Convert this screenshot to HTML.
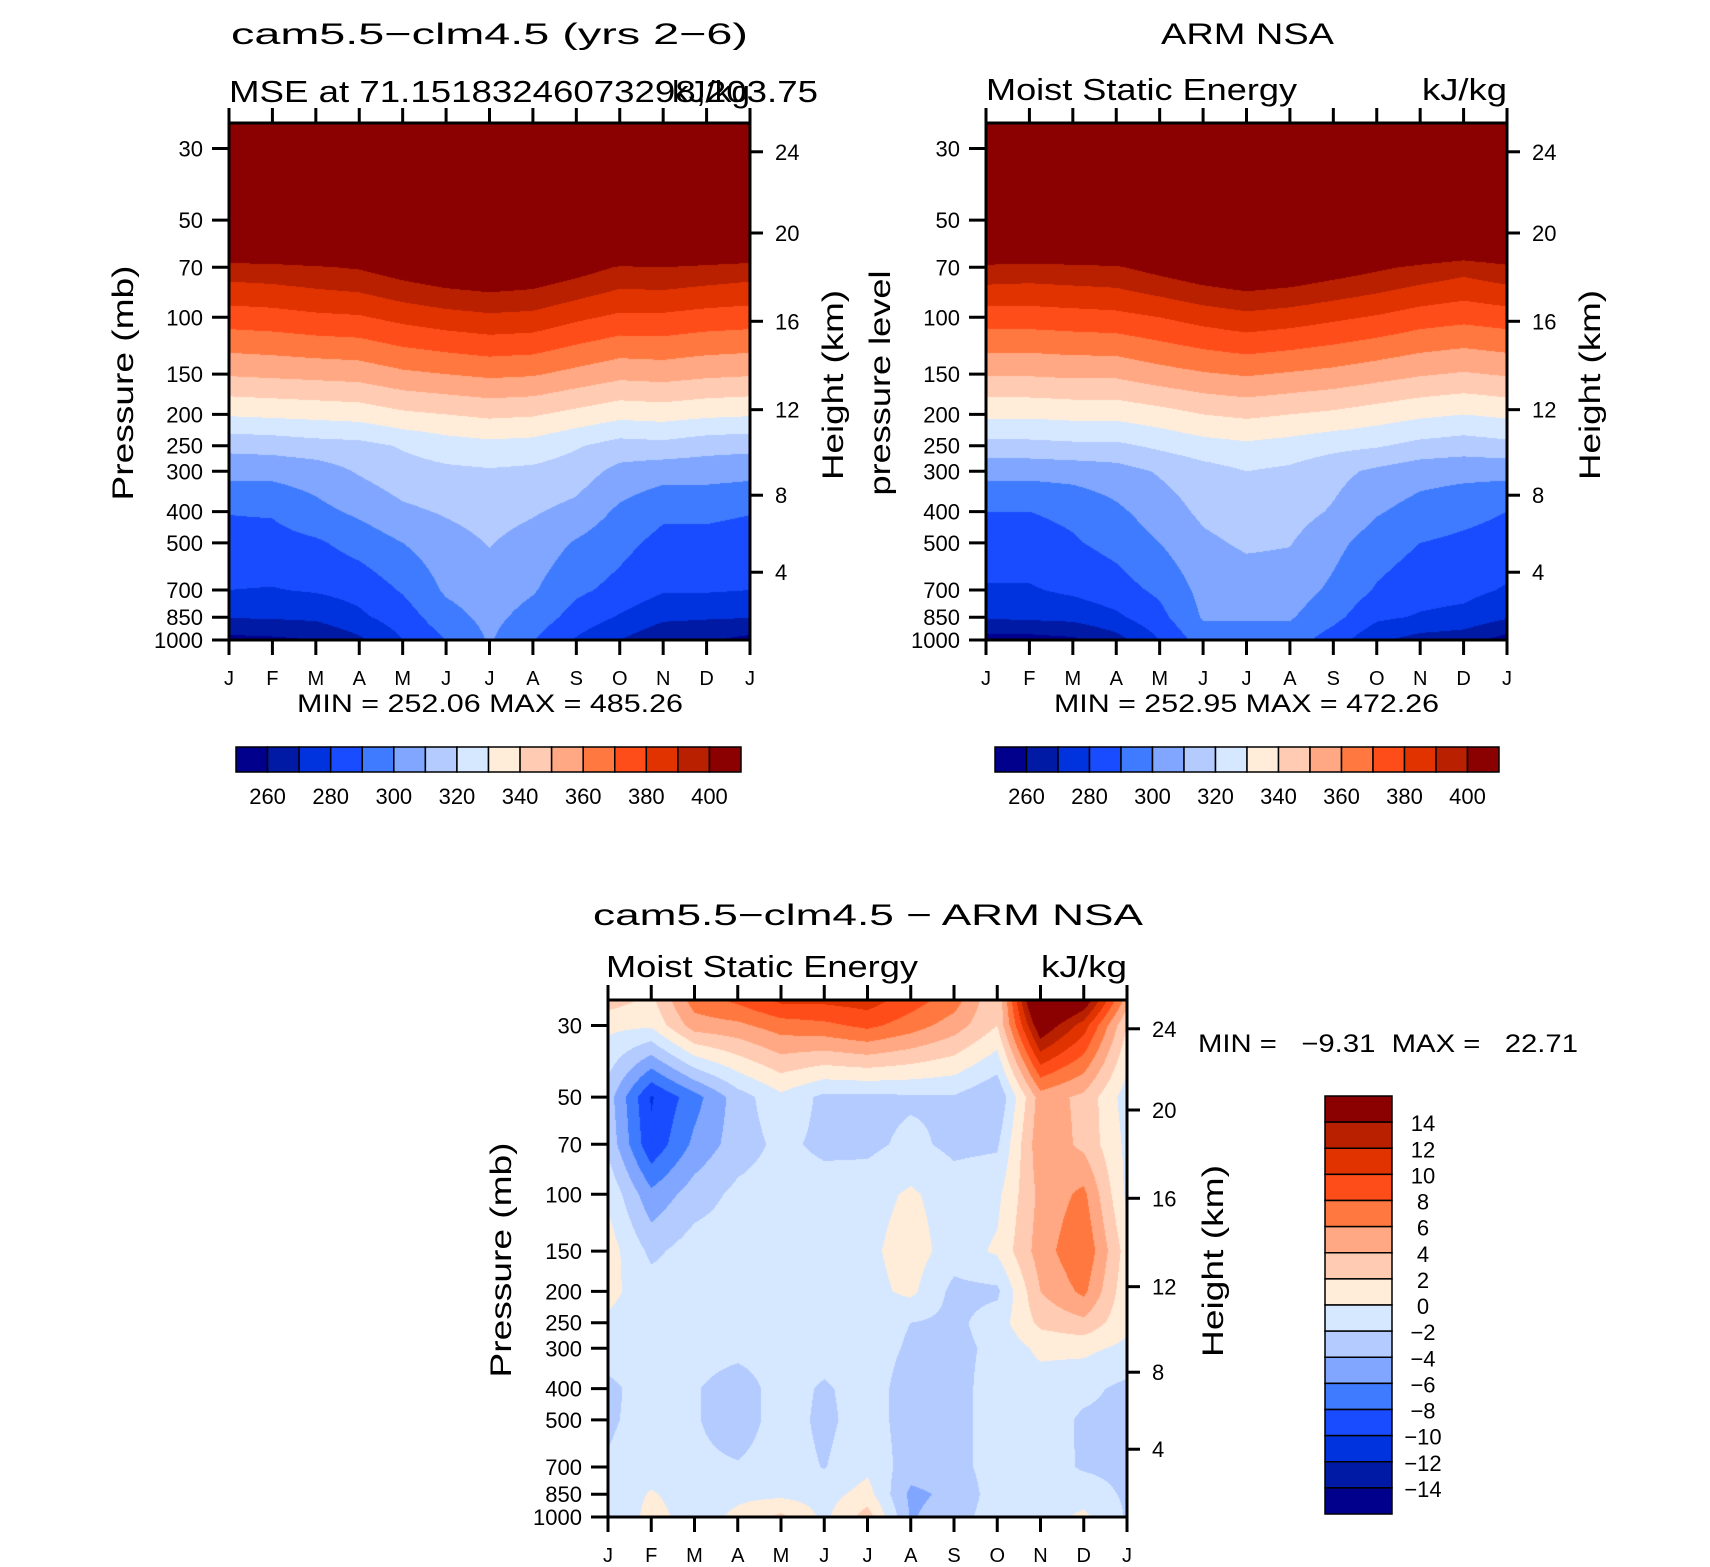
<!DOCTYPE html>
<html>
<head>
<meta charset="utf-8">
<style>
html,body{margin:0;padding:0;background:#fff;}
#wrap{position:relative;width:1710px;height:1567px;overflow:hidden;background:#fff;}
canvas,svg{position:absolute;left:0;top:0;}
text{font-family:"Liberation Sans",sans-serif;fill:#000;}
</style>
</head>
<body>
<div id="wrap">
<canvas id="cv" width="1710" height="1567"></canvas>
<svg id="sv" width="1710" height="1567" xmlns="http://www.w3.org/2000/svg">
  <text x="231" y="44" font-size="30" textLength="517" lengthAdjust="spacingAndGlyphs">cam5.5−clm4.5 (yrs 2−6)</text>
  <text x="229" y="102" font-size="31" textLength="589" lengthAdjust="spacingAndGlyphs">MSE at 71.15183246073298,203.75</text>
  <text x="672" y="102" font-size="31" textLength="78" lengthAdjust="spacingAndGlyphs">kJ/kg</text>
  <text x="1161" y="44" font-size="30" textLength="173" lengthAdjust="spacingAndGlyphs">ARM NSA</text>
  <text x="986" y="100" font-size="31" textLength="311" lengthAdjust="spacingAndGlyphs">Moist Static Energy</text>
  <text x="1422" y="100" font-size="31" textLength="85" lengthAdjust="spacingAndGlyphs">kJ/kg</text>
  <text x="297" y="712" font-size="25" textLength="386" lengthAdjust="spacingAndGlyphs">MIN = 252.06 MAX = 485.26</text>
  <text x="1054" y="712" font-size="25" textLength="385" lengthAdjust="spacingAndGlyphs">MIN = 252.95 MAX = 472.26</text>
  <text x="593" y="925" font-size="30" textLength="550" lengthAdjust="spacingAndGlyphs">cam5.5−clm4.5 − ARM NSA</text>
  <text x="606" y="977" font-size="31" textLength="312" lengthAdjust="spacingAndGlyphs">Moist Static Energy</text>
  <text x="1041" y="977" font-size="31" textLength="86" lengthAdjust="spacingAndGlyphs">kJ/kg</text>
  <text x="1198" y="1052" font-size="25" textLength="380" lengthAdjust="spacingAndGlyphs" xml:space="preserve">MIN =   −9.31  MAX =   22.71</text>
  <text transform="translate(133,383) rotate(-90)" text-anchor="middle" font-size="30" textLength="235" lengthAdjust="spacingAndGlyphs">Pressure (mb)</text>
  <text transform="translate(843,385) rotate(-90)" text-anchor="middle" font-size="30" textLength="190" lengthAdjust="spacingAndGlyphs">Height (km)</text>
  <text transform="translate(890,383) rotate(-90)" text-anchor="middle" font-size="30" textLength="225" lengthAdjust="spacingAndGlyphs">pressure level</text>
  <text transform="translate(1600,385) rotate(-90)" text-anchor="middle" font-size="30" textLength="190" lengthAdjust="spacingAndGlyphs">Height (km)</text>
  <text transform="translate(511,1260) rotate(-90)" text-anchor="middle" font-size="30" textLength="235" lengthAdjust="spacingAndGlyphs">Pressure (mb)</text>
  <text transform="translate(1223,1261) rotate(-90)" text-anchor="middle" font-size="30" textLength="192" lengthAdjust="spacingAndGlyphs">Height (km)</text>
  <g id="axes"></g>
</svg>
</div>
<script>
const months = ['J','F','M','A','M','J','J','A','S','O','N','D','J'];
const levels = [25,30,50,70,100,150,200,250,300,400,500,700,850,1000];
const pressureTicks = [30,50,70,100,150,200,250,300,400,500,700,850,1000];
const heightTickLabels = ['24','20','16','12','8','4'];
const heightTickPressures = [30.7,54.8,102.9,193.3,355.9,616.6];
const mseTickLabels = [260,280,300,320,340,360,380,400];
const diffTickLabels = [14,12,10,8,6,4,2,0,-2,-4,-6,-8,-10,-12,-14];
const palette = ['#00008c','#001aa6','#0033dd','#1a4cff','#3f7bff','#80a6ff','#b3cbff','#d6e8ff','#ffecd9','#ffcbb3','#ffa883','#ff7840','#ff4d1a','#e03300','#b82000','#8b0000'];

// model MSE (kJ/kg), rows = levels, cols = months J..J
const modelMSE = [
 [485,485,485,485,485,485,485,485,485,485,485,485,485],
 [475,475,475,475,475,475,475,475,475,475,475,475,475],
 [440,440,440,440,440,440,440,440,440,440,440,440,440],
 [396,397,399,401,406,410,412,410,405,399,400,398,396],
 [375,376,378,379,383,386,388,387,382,378,378,376,375],
 [351,352,353,354,358,360,362,361,357,353,354,352,351],
 [331,332,333,334,338,340,342,341,337,333,334,332,331],
 [313,314,316,317,321,325,327,326,321,316,317,314,313],
 [303,303,305,311,316,318,319,318,315,307,304,304,303],
 [290.5,291,297,302,308,311,314,311,307,298,292,292,290.5],
 [286,286.5,288.5,294,300,306,310.5,306,299,293,287,287,286],
 [280,279.5,281,283.5,291,301.5,306,301,292,287,281,281,280],
 [270.5,271,272,278,285,296,303,296,286,279,272,271,270.5],
 [257,258,260,268,280,290,301,290.5,279,270,262,261,257]
];
// observed MSE (ARM NSA)
const obsMSE = [
 [472,472,472,472,472,472,472,472,472,472,472,472,472],
 [465,465,465,465,465,465,465,465,465,465,465,465,465],
 [435,435,435,435,435,435,435,435,435,435,435,435,435],
 [398,397,398,399,404,409,412,410,406,402,398,394,398],
 [375,375,376,377,380,384,387,385,382,379,375,373,375],
 [351,351,352,352,356,359,361,359,357,354,351,349,351],
 [332,332,333,333,336,340,342,340,338,335,332,330,332],
 [317,317,318,318,322,326,328,326,323,321,317,315,317],
 [303,303,304,306,311,316,320,318,313,308,304,303,303],
 [290,290,292,298,305,312,315,314,309,301,296,293,290],
 [286,286,289,293,300,308,311.5,310.5,303,295,290,288,286],
 [279,279,282,286,292,303,305,305,298,289,284,283,279],
 [271,272,273,278,287,301,301,301,293,282,279,277,271],
 [256,256,258,266,280,295,295,295,285,272,266,264,256]
];
// difference (model - obs)
const diffMSE = [
 [3,1.5,7,8.5,10.5,10.5,11,9,7,2,20,16,5],
 [0.5,0.3,5,5.5,7,7.5,8.5,7,5,2,16,11,2],
 [-3,-10.2,-6.8,-3,-0.5,-2.5,-2.5,-2.3,-2.2,-3.9,5,3.5,-1],
 [-2.5,-9.6,-5.5,-3,-1.5,-2.5,-2.5,-1.5,-2.5,-2.3,5.5,3.5,-0.5],
 [-0.3,-5.5,-3,-1.5,-1,-1,-0.8,0.3,-1,-0.5,4.6,6.5,-0.5],
 [1,-2.5,-1,-1,-1,-1,-0.5,1,-1,0.3,5,7.8,1],
 [0.5,-1,-1,-1,-1,-1,-0.7,0.5,-2.6,-2.4,4,6.5,0.5],
 [-0.3,-1,-1,-1,-1,-1,-1,-2,-2.5,-1,2.5,3.5,0.5],
 [-1,-1,-1,-1.3,-1,-1,-1,-2.3,-2.6,-1.5,0.5,0.5,-0.5],
 [-2.5,-1,-1.8,-3.2,-1,-2.3,-1,-3,-2.8,-1,-1,-1.5,-2.5],
 [-2.3,-1.2,-1.8,-3.2,-1,-2.5,-1,-3,-2.8,-1,-1,-2.3,-2.5],
 [-1.8,-1,-1.5,-1.8,-1,-2.1,-0.5,-3,-2.8,-1,-1.2,-2.2,-2.5],
 [-1.5,0.2,-1,-0.5,-0.5,-0.8,0.8,-4.5,-3.5,-1,-1,-1,-2.3],
 [-2.2,0.8,-1,0.5,2.5,-0.5,3,-4.2,-2.8,-1,-1,0.5,-2.2]
];

const plots = [
  {id:'model', x0:229, x1:750, yT:123, yB:640, grid:modelMSE, bin:v=>Math.floor((v-250)/10)},
  {id:'obs', x0:986, x1:1507, yT:123, yB:640, grid:obsMSE, bin:v=>Math.floor((v-250)/10)},
  {id:'diff', x0:608, x1:1127, yT:1000, yB:1517, grid:diffMSE, bin:v=>Math.floor((v+16)/2)}
];
const LP0 = Math.log10(25), LP1 = Math.log10(1000);
function yOf(pl,p){return pl.yT + (Math.log10(p)-LP0)/(LP1-LP0)*(pl.yB-pl.yT);}
function xOf(pl,m){return pl.x0 + m/12*(pl.x1-pl.x0);}
function hexRGB(h){return [parseInt(h.substr(1,2),16),parseInt(h.substr(3,2),16),parseInt(h.substr(5,2),16)];}
const rgb = palette.map(hexRGB);

const ctx = document.getElementById('cv').getContext('2d');
plots.forEach(pl=>{
  const w = pl.x1-pl.x0, h = pl.yB-pl.yT;
  const img = ctx.createImageData(w,h);
  const ly = levels.map(p=>yOf(pl,p));
  for(let j=0;j<h;j++){
    const y = pl.yT+j+0.5;
    let i=0; while(i<levels.length-2 && ly[i+1]<y) i++;
    let f=(y-ly[i])/(ly[i+1]-ly[i]); f=Math.max(0,Math.min(1,f));
    for(let k=0;k<w;k++){
      const m = (k+0.5)/w*12;
      let c=Math.min(11,Math.floor(m)); const g=m-c;
      const a=pl.grid[i][c]*(1-g)+pl.grid[i][c+1]*g;
      const b=pl.grid[i+1][c]*(1-g)+pl.grid[i+1][c+1]*g;
      const v=a*(1-f)+b*f;
      let bi=pl.bin(v); bi=Math.max(0,Math.min(15,bi));
      const col=rgb[bi]; const o=(j*w+k)*4;
      img.data[o]=col[0];img.data[o+1]=col[1];img.data[o+2]=col[2];img.data[o+3]=255;
    }
  }
  ctx.putImageData(img,pl.x0,pl.yT);
});

const NS='http://www.w3.org/2000/svg';
const axes=document.getElementById('axes');
function mk(tag,attrs){const e=document.createElementNS(NS,tag);for(const k in attrs)e.setAttribute(k,attrs[k]);axes.appendChild(e);return e;}
plots.forEach(pl=>{
  const fr=mk('rect',{x:pl.x0,y:pl.yT,width:pl.x1-pl.x0,height:pl.yB-pl.yT,fill:'none',stroke:'#000','stroke-width':3});
  
  
  pressureTicks.forEach(p=>{
    const y=yOf(pl,p);
    const t=mk('line',{x1:pl.x0-17,x2:pl.x0,y1:y,y2:y,stroke:'#000','stroke-width':3});
    
    
    const l=mk('text',{x:pl.x0-26,y:y+8,'font-size':22,'text-anchor':'end'});
    l.textContent=p;
    
    
  });
  heightTickPressures.forEach((p,i)=>{
    const y=yOf(pl,p);
    const t=mk('line',{x1:pl.x1,x2:pl.x1+13,y1:y,y2:y,stroke:'#000','stroke-width':3});
    
    
    const l=mk('text',{x:pl.x1+25,y:y+8,'font-size':22});
    l.textContent=heightTickLabels[i];
    
    
  });
  months.forEach((mo,i)=>{
    const x=xOf(pl,i);
    const t1=mk('line',{x1:x,x2:x,y1:pl.yT-15,y2:pl.yT,stroke:'#000','stroke-width':3});
    
    
    const t2=mk('line',{x1:x,x2:x,y1:pl.yB,y2:pl.yB+15,stroke:'#000','stroke-width':3});
    
    
    const l=mk('text',{x:x,y:pl.yB+45,'font-size':20,'text-anchor':'middle'});
    l.textContent=mo;
    
    
  });
});
// horizontal colorbars
[{id:'model',x0:236,x1:741},{id:'obs',x0:995,x1:1499}].forEach(cb=>{
  const bw=(cb.x1-cb.x0)/16;
  palette.forEach((c,i)=>{
    const r=mk('rect',{x:cb.x0+i*bw,y:747,width:bw,height:25,fill:c,stroke:'#000','stroke-width':1.5});
    
    
  });
  mseTickLabels.forEach(v=>{
    const l=mk('text',{x:cb.x0+(v-250)/10*bw,y:804,'font-size':22,'text-anchor':'middle'});
    l.textContent=v;
    
    
  });
});
// vertical colorbar (difference)
(function(){
  const y0=1096,y1=1514,x0=1325,x1=1392,bh=(y1-y0)/16;
  palette.slice().reverse().forEach((c,i)=>{
    const r=mk('rect',{x:x0,y:y0+i*bh,width:x1-x0,height:bh,fill:c,stroke:'#000','stroke-width':1.5});
    
    
  });
  diffTickLabels.forEach((v,i)=>{
    const l=mk('text',{x:1423,y:y0+(i+1)*bh+9,'font-size':22,'text-anchor':'middle'});
    l.textContent=(v<0?'−'+(-v):String(v));
    
    
  });
})();
</script>
</body>
</html>
